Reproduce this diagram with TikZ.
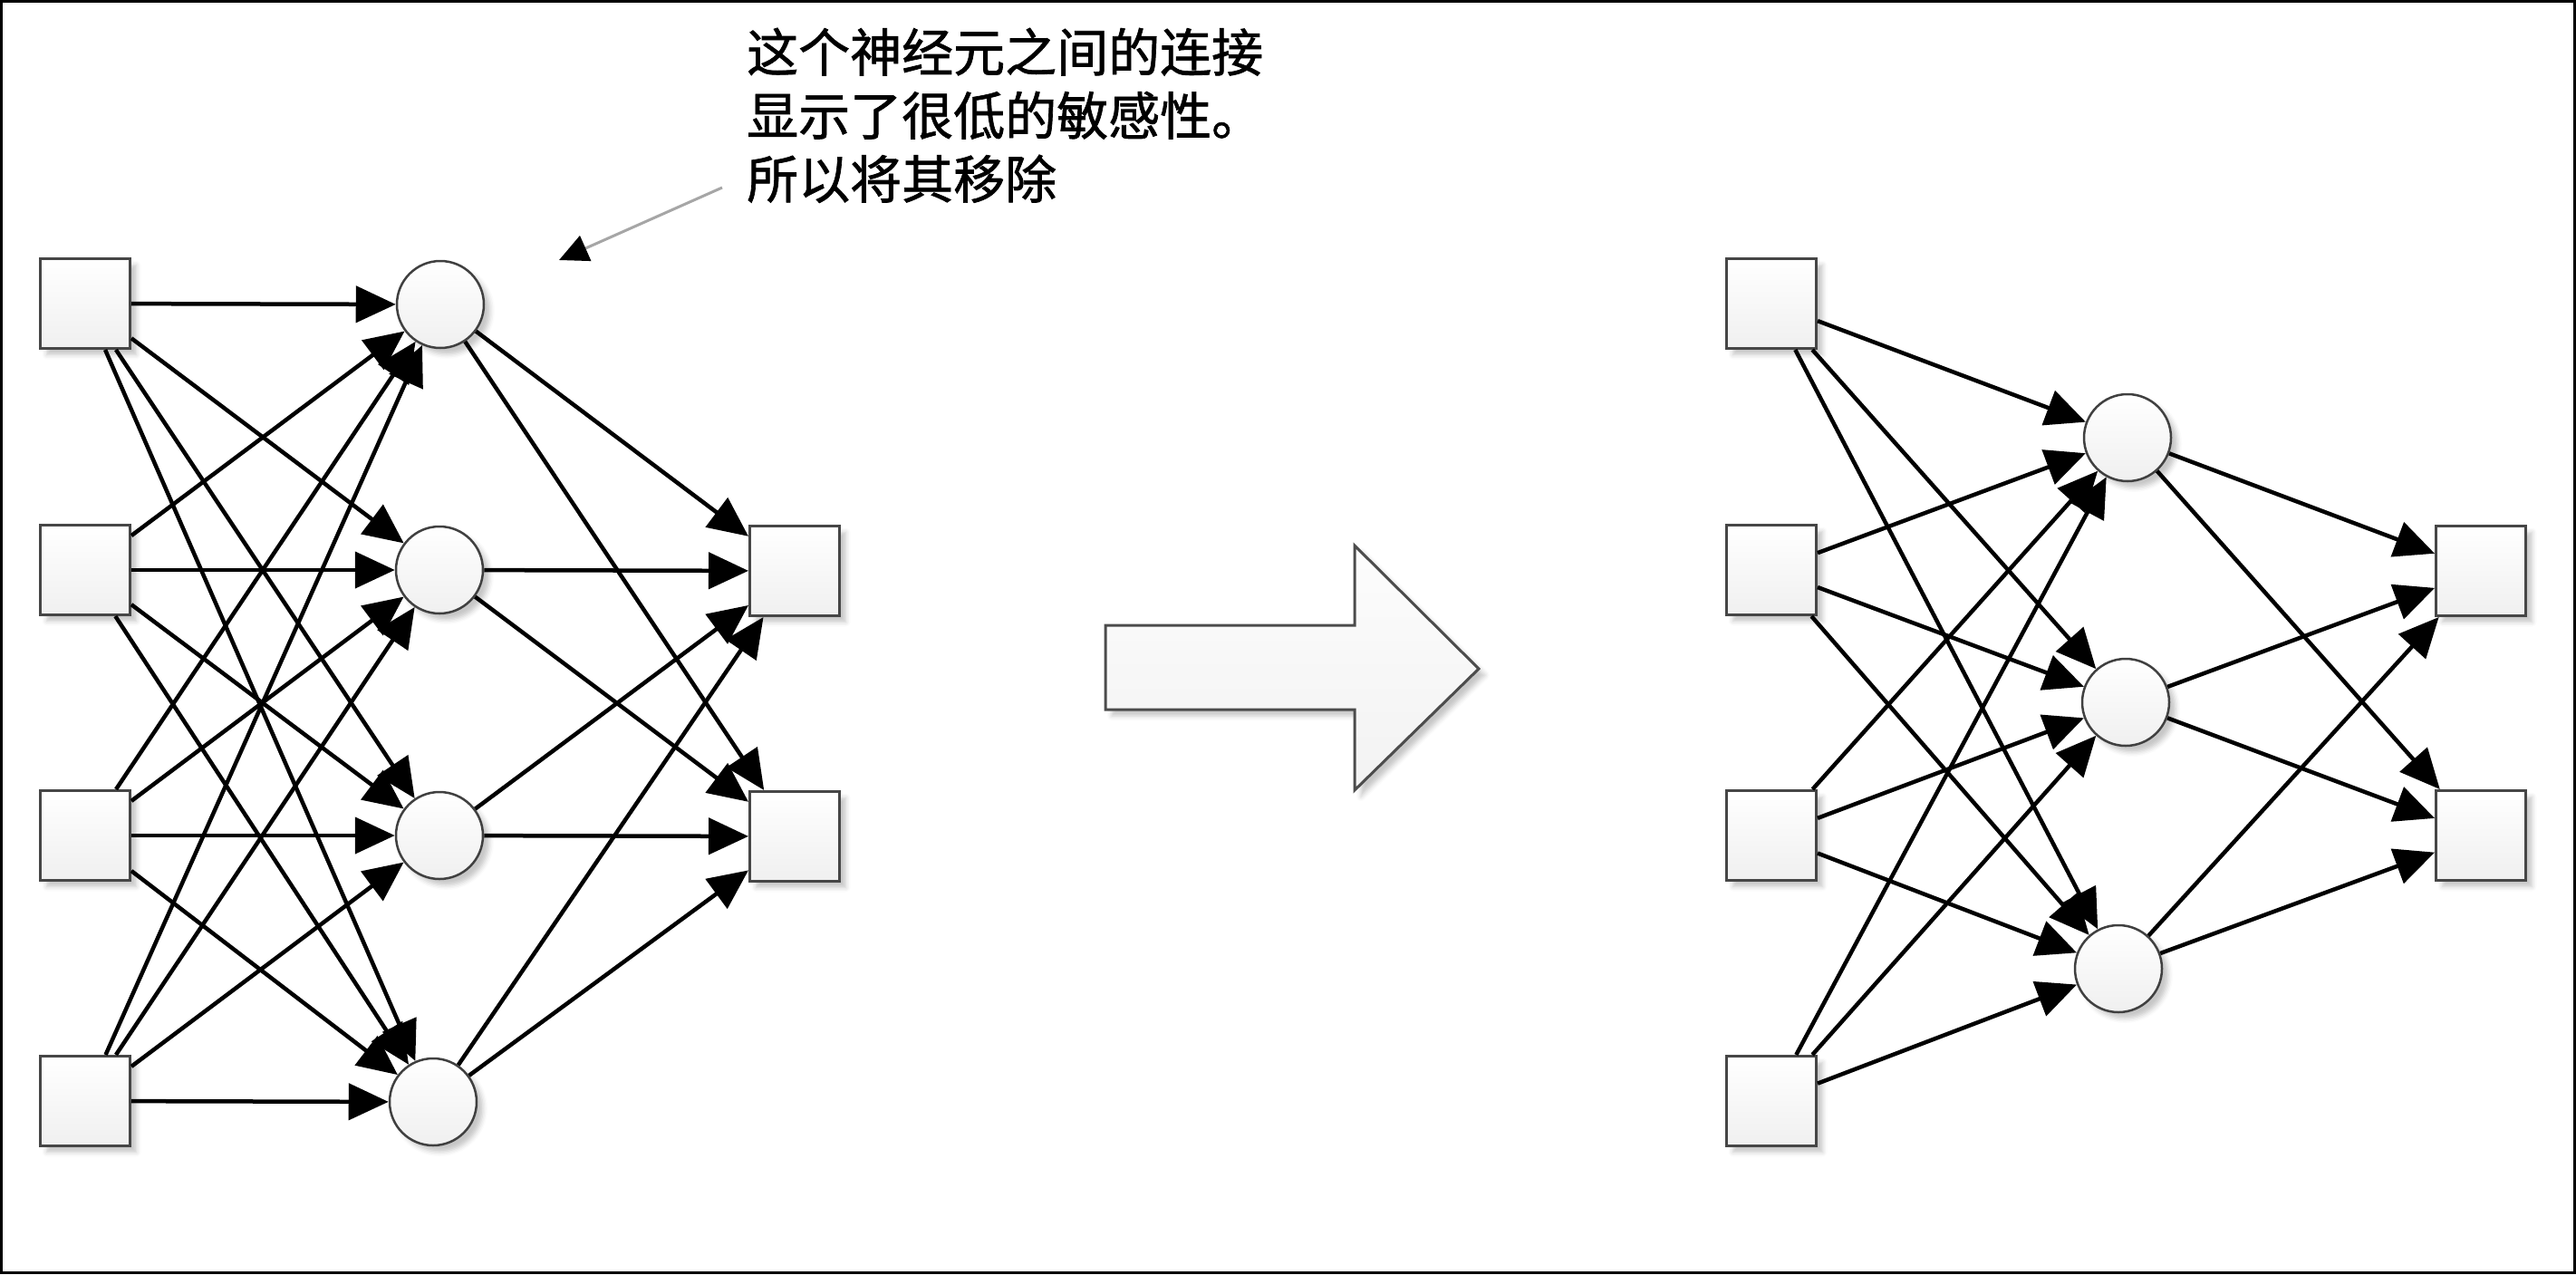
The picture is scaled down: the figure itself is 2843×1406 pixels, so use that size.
\documentclass[tikz,border=0pt]{standalone}
\usepackage{fontspec}
\newfontfamily\cjk[FakeBold=1.2]{Noto Sans CJK SC}
\usetikzlibrary{arrows.meta,shadows.blur}
\begin{document}
\begin{tikzpicture}[x=1pt,y=-1pt,
  conn/.style={line width=4.5pt, draw=black, -{Triangle[length=44pt,width=40pt]}},
  shd/.style={blur shadow={shadow xshift=7pt, shadow yshift=-7pt, shadow blur radius=5pt, shadow opacity=22}},
  sq/.style={rectangle, draw=gray!55!black, line width=3pt, top color=white, bottom color=gray!12, minimum size=99pt, inner sep=0pt, shd},
  neuron/.style={circle, draw=gray!50!black, line width=2.5pt, top color=white, bottom color=gray!12, minimum size=96pt, inner sep=0pt, shd},
  bigarrow/.style={draw=gray!60!black, line width=3pt, top color=gray!2, bottom color=gray!10, shd},
  notetext/.style={anchor=base west, inner sep=0pt, font=\cjk\fontsize{57pt}{70pt}\selectfont},
  noteline/.style={line width=3pt, draw=gray!70, -{Triangle[length=32pt,width=30pt,color=black]}}
]
\useasboundingbox (0,0) rectangle (2843,1406);
\draw[line width=3pt] (1.5,1.5) rectangle (2841.5,1404.5);

% ---------- left network ----------
\node[sq] (Li1) at (94,335) {};
\node[sq] (Li2) at (94,629) {};
\node[sq] (Li3) at (94,922) {};
\node[sq] (Li4) at (94,1215) {};
\node[neuron] (Lh1) at (486,336) {};
\node[neuron] (Lh2) at (485,629) {};
\node[neuron] (Lh3) at (485,922) {};
\node[neuron] (Lh4) at (478,1216) {};
\node[sq] (Lo1) at (877,630) {};
\node[sq] (Lo2) at (877,923) {};
\foreach \i in {1,...,4}{
  \foreach \j in {1,...,4}{
    \draw[conn] (Li\i) -- (Lh\j);
  }
}
\foreach \j in {1,...,4}{
  \foreach \k in {1,2}{
    \draw[conn] (Lh\j) -- (Lo\k);
  }
}

% ---------- right network ----------
\node[sq] (Ri1) at (1955,335) {};
\node[sq] (Ri2) at (1955,629) {};
\node[sq] (Ri3) at (1955,922) {};
\node[sq] (Ri4) at (1955,1215) {};
\node[neuron] (Rh1) at (2348,483) {};
\node[neuron] (Rh2) at (2346,775) {};
\node[neuron] (Rh3) at (2338,1069) {};
\node[sq] (Ro1) at (2738,630) {};
\node[sq] (Ro2) at (2738,922) {};
\foreach \i in {1,...,4}{
  \foreach \j in {1,...,3}{
    \draw[conn] (Ri\i) -- (Rh\j);
  }
}
\foreach \j in {1,...,3}{
  \foreach \k in {1,2}{
    \draw[conn] (Rh\j) -- (Ro\k);
  }
}

% ---------- big arrow ----------
\draw[bigarrow] (1220,690) -- (1495,690) -- (1495,602) -- (1632,738)
  -- (1495,872) -- (1495,783) -- (1220,783) -- cycle;

% ---------- annotation ----------
\node[notetext] (n1) at (824,79) {这个神经元之间的连接};
\node[notetext] (n2) at (824,149) {显示了很低的敏感性。};
\node[notetext] (n3) at (824,219) {所以将其移除};
\coordinate (annS) at (797,207);
\coordinate (annE) at (617,287);
\draw[noteline] (annS) -- (annE);
\end{tikzpicture}
\end{document}
